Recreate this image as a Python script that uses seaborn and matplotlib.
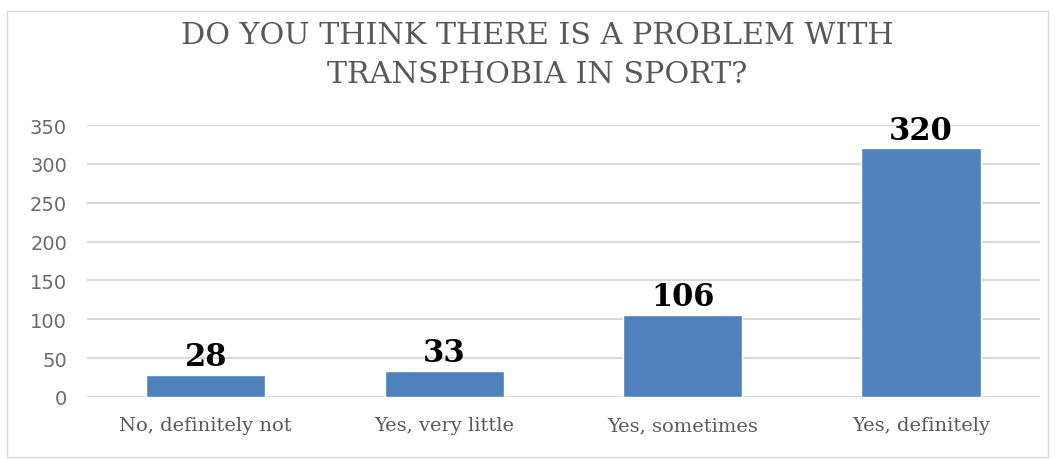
import pandas as pd
import matplotlib.pyplot as plt
import seaborn as sns
from matplotlib.patches import Rectangle

# survey answers and counts
answers = ['No, definitely not', 'Yes, very little', 'Yes, sometimes', 'Yes, definitely']
counts = [28, 33, 106, 320]
yticks = [0, 50, 100, 150, 200, 250, 300, 350]
title = 'DO YOU THINK THERE IS A PROBLEM WITH\nTRANSPHOBIA IN SPORT?'

df = pd.DataFrame({'answer': answers, 'count': counts})

sns.set_style('white')
fig = plt.figure(figsize=(10.55, 4.6), dpi=100)
ax = fig.add_axes([0.082, 0.135, 0.904, 0.591])

sns.barplot(data=df, x='answer', y='count', color='#4F81BD', width=0.5,
            saturation=1, ax=ax, zorder=3)

ax.set_ylim(0, 350)
ax.set_xlim(-0.5, 3.5)
ax.set_yticks(yticks)
ax.yaxis.grid(True, color='#d9d9d9', linewidth=1.5, zorder=0)
ax.set_axisbelow(True)
for s in ax.spines.values():
    s.set_visible(False)
ax.set_xlabel('')
ax.set_ylabel('')
ax.tick_params(axis='both', length=0)
ax.tick_params(axis='y', labelsize=14, labelcolor='#6b6b6b', pad=14)
ax.tick_params(axis='x', labelsize=14, labelcolor='#595959', pad=14)
for lab in ax.get_xticklabels():
    lab.set_family('DejaVu Serif')
for lab in ax.get_yticklabels():
    lab.set_family('DejaVu Sans')

for c in ax.containers:
    ax.bar_label(c, fontsize=22, fontweight='bold', family='DejaVu Serif',
                 color='black', padding=2)

fig.text(0.509, 0.953, title, ha='center', va='top', fontsize=21.7,
         family='DejaVu Serif', color='#595959', linespacing=1.5)

# thin frame around the chart area
fig.patches.append(Rectangle((0.007, 0.004), 0.986, 0.97, transform=fig.transFigure,
                             fill=False, edgecolor='#d9d9d9', linewidth=1))

fig.savefig('out.png', dpi=100)
